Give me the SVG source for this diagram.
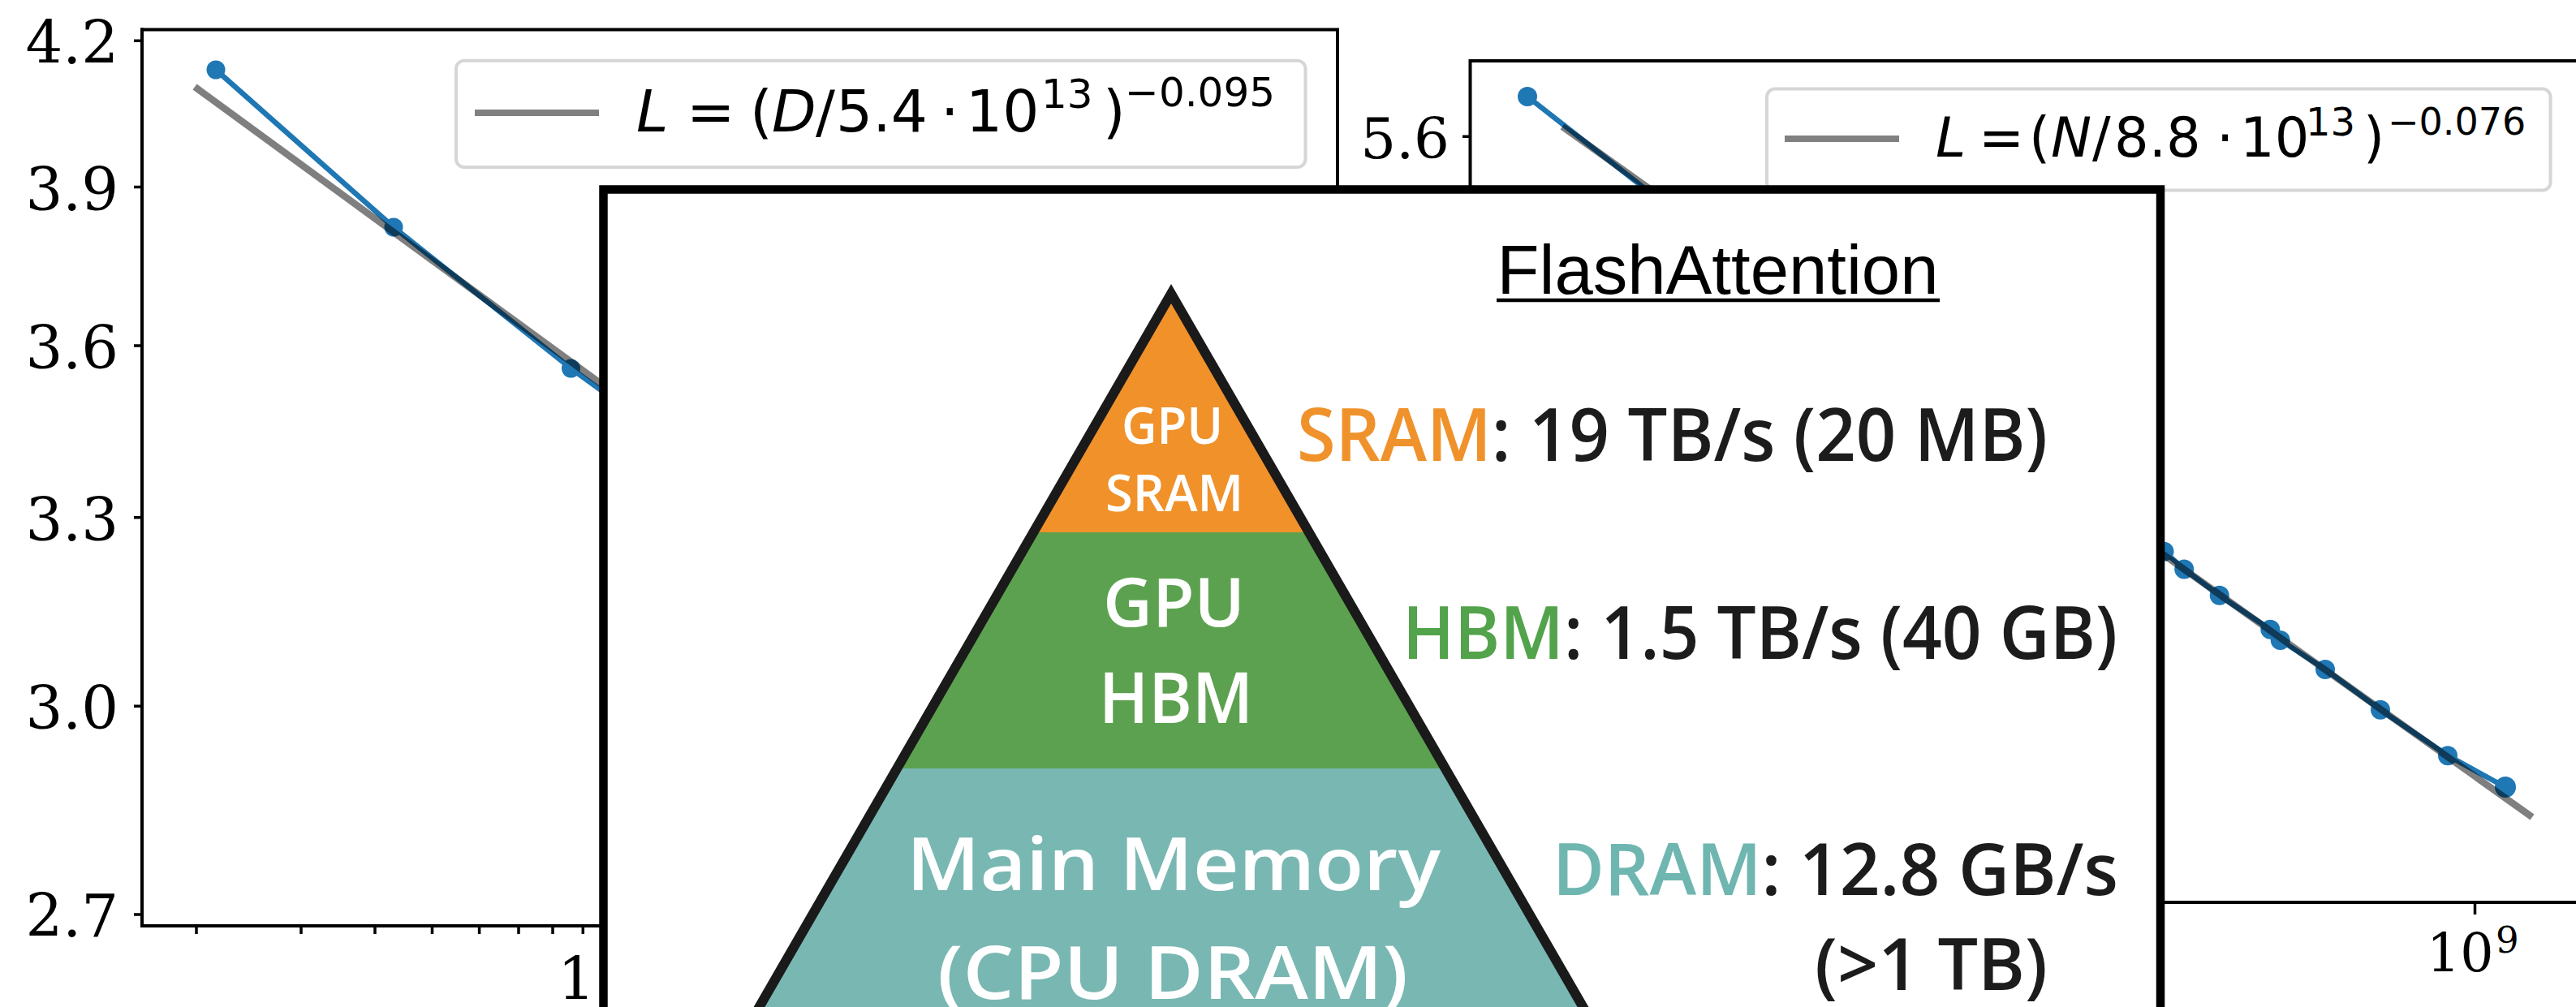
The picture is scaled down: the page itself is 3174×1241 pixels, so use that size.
<svg xmlns="http://www.w3.org/2000/svg" width="3174" height="1241" viewBox="0 0 3174 1241">
<defs>
<style>
.spine{stroke:#000;stroke-width:4;fill:none;stroke-linecap:square}
.tick{stroke:#000;stroke-width:3.5}
.tl{font-family:"DejaVu Serif",serif;fill:#000}
.data{stroke:#1f77b4;stroke-width:6.5;fill:none;stroke-linejoin:round}
.pt{fill:#1f77b4}
.fit{stroke:#000;stroke-opacity:0.5;stroke-width:8.5;fill:none}
.leg{fill:#fff;fill-opacity:0.8;stroke:#d6d6d6;stroke-width:4}
.legline{stroke:#808080;stroke-width:8}
.lt{font-family:"DejaVu Sans",sans-serif;fill:#000}
.it{font-style:italic}
.pw{font-family:"Open Sans","Noto Sans",sans-serif;font-weight:600;fill:#fff;text-anchor:middle}
.rl{font-family:"Open Sans","Noto Sans",sans-serif;font-weight:600;fill:#1c1c1c}
</style>
<clipPath id="tri"><path d="M1443,362 L843.7,1400 L2042.3,1400 Z"/></clipPath>
</defs>
<rect width="3174" height="1241" fill="#fff"/>

<g id="chart-left">
  <path class="spine" d="M175,36.5 H1648 V240"/>
  <path class="spine" d="M175,36.5 V1141 H750"/>
  <path class="tick" d="M165,50.2 H175 M165,230.5 H175 M165,426 H175 M165,637.8 H175 M165,870.3 H175 M165,1127 H175"/>
  <path class="tick" d="M242,1141 V1151 M371,1141 V1151 M462,1141 V1151 M532.5,1141 V1151 M590.6,1141 V1151 M639,1141 V1151 M681,1141 V1151 M718.3,1141 V1151"/>
  <g class="tl" font-size="72" text-anchor="end">
    <text x="146" y="78">4.2</text>
    <text x="146" y="258.5">3.9</text>
    <text x="146" y="453.5">3.6</text>
    <text x="146" y="665.5">3.3</text>
    <text x="146" y="897.5">3.0</text>
    <text x="146" y="1154">2.7</text>
  </g>
  <text class="tl" x="687" y="1231.5" font-size="73">1</text>
  <polyline class="data" points="266,86 485,280 703.5,454 850,560 1000,668"/>
  <circle class="pt" cx="266" cy="86" r="11.5"/>
  <circle class="pt" cx="485" cy="280" r="11.5"/>
  <circle class="pt" cx="703.5" cy="454" r="11.5"/>
  <line class="fit" x1="240" y1="107" x2="1000" y2="662.6"/>
  <g id="legend-left">
    <rect class="leg" x="562" y="74.7" width="1046.5" height="131.3" rx="10"/>
    <line class="legline" x1="585" y1="139" x2="738" y2="139"/>
    <text class="lt" font-size="71" y="162"><tspan class="it" x="784">L</tspan><tspan x="846">=</tspan><tspan x="924">(</tspan><tspan class="it" x="951">D</tspan><tspan x="1005">/</tspan><tspan x="1030">5.4</tspan><tspan x="1159">·</tspan><tspan x="1190">10</tspan><tspan x="1283" y="133" font-size="50">13</tspan><tspan x="1359" y="162">)</tspan><tspan x="1386" y="131" font-size="50">−0.095</tspan></text>
  </g>
</g>

<g id="chart-right">
  <path class="spine" d="M1811.5,240 V75 H3180"/>
  <path class="spine" d="M2650,1112 H3180"/>
  <path class="tick" d="M1802,168.3 H1811.5 M3049.5,1112 V1127"/>
  <text class="tl" x="1786" y="195" font-size="69" text-anchor="end">5.6</text>
  <text class="tl" x="2990" y="1197" font-size="65">10<tspan x="3075" y="1174" font-size="45">9</tspan></text>
  <polyline class="data" points="1882,119 2100,290 2666.5,679.7 2691.2,701.4 2734.7,733.7 2797.3,775.8 2809.7,788.9 2865,824.9 2933,874.7 3016,931.2 3087,970"/>
  <g class="pt">
    <circle cx="1882" cy="119" r="12"/>
    <circle cx="2666.5" cy="679.7" r="12"/>
    <circle cx="2691.2" cy="701.4" r="12"/>
    <circle cx="2734.7" cy="733.7" r="12"/>
    <circle cx="2797.3" cy="775.8" r="12"/>
    <circle cx="2809.7" cy="788.9" r="12"/>
    <circle cx="2865" cy="824.9" r="12"/>
    <circle cx="2933" cy="874.7" r="12"/>
    <circle cx="3016" cy="931.2" r="12"/>
    <circle cx="3087" cy="970" r="13"/>
  </g>
  <line class="fit" x1="1925" y1="156" x2="3120" y2="1007"/>
  <g id="legend-right">
    <rect class="leg" x="2177" y="109.6" width="965.6" height="125" rx="10"/>
    <line class="legline" x1="2199" y1="171" x2="2340" y2="171"/>
    <text class="lt" font-size="67" y="193"><tspan class="it" x="2385">L</tspan><tspan x="2438">=</tspan><tspan x="2500">(</tspan><tspan class="it" x="2527">N</tspan><tspan x="2578">/</tspan><tspan x="2605">8.8</tspan><tspan x="2731">·</tspan><tspan x="2760">10</tspan><tspan x="2841" y="167" font-size="48">13</tspan><tspan x="2912" y="193">)</tspan><tspan x="2942" y="166" font-size="46">−0.076</tspan></text>
  </g>
</g>

<g id="flashattention-panel">
  <rect x="743.5" y="233.5" width="1918.5" height="1100" fill="#fff" stroke="#000" stroke-width="10.5"/>
  <text x="2116.5" y="362" font-family="Liberation Sans, Arial, sans-serif" font-size="85" text-anchor="middle" textLength="544" lengthAdjust="spacingAndGlyphs">FlashAttention</text>
  <line x1="1844" y1="370" x2="2390" y2="370" stroke="#000" stroke-width="4.5"/>

  <g id="pyramid">
    <g clip-path="url(#tri)">
      <rect x="800" y="340" width="1300" height="316" fill="#F0912A"/>
      <rect x="800" y="656" width="1300" height="291" fill="#5CA14F"/>
      <rect x="800" y="947" width="1300" height="500" fill="#79B7B2"/>
    </g>
    <path d="M1443,362 L843.7,1400 L2042.3,1400 Z" fill="none" stroke="#1a1a1a" stroke-width="12"/>
  </g>
  <g id="node-sram">
    <text class="pw" x="1444.5" y="547" font-size="63" textLength="125" lengthAdjust="spacingAndGlyphs">GPU</text>
    <text class="pw" x="1447" y="630" font-size="63" textLength="170" lengthAdjust="spacingAndGlyphs">SRAM</text>
  </g>
  <g id="node-hbm">
    <text class="pw" x="1446.5" y="772" font-size="84" textLength="175" lengthAdjust="spacingAndGlyphs">GPU</text>
    <text class="pw" x="1449" y="891" font-size="86" textLength="190" lengthAdjust="spacingAndGlyphs">HBM</text>
  </g>
  <g id="node-dram">
    <text class="pw" x="1446" y="1097" font-size="91" textLength="658" lengthAdjust="spacingAndGlyphs">Main Memory</text>
    <text class="pw" x="1445" y="1231" font-size="91" textLength="580" lengthAdjust="spacingAndGlyphs">(CPU DRAM)</text>
  </g>
  <g id="label-sram">
    <text class="rl" x="1598" y="568" font-size="90" textLength="925" lengthAdjust="spacingAndGlyphs"><tspan fill="#F0922C">SRAM</tspan>: 19 TB/s (20 MB)</text>
  </g>
  <g id="label-hbm">
    <text class="rl" x="1728" y="812" font-size="90" textLength="881" lengthAdjust="spacingAndGlyphs"><tspan fill="#52A34B">HBM</tspan>: 1.5 TB/s (40 GB)</text>
  </g>
  <g id="label-dram">
    <text class="rl" x="1913" y="1103" font-size="88" textLength="697" lengthAdjust="spacingAndGlyphs"><tspan fill="#6FB6B0">DRAM</tspan>: 12.8 GB/s</text>
    <text class="rl" x="2236" y="1220" font-size="88" textLength="287" lengthAdjust="spacingAndGlyphs">(&gt;1 TB)</text>
  </g>
</g>
</svg>
